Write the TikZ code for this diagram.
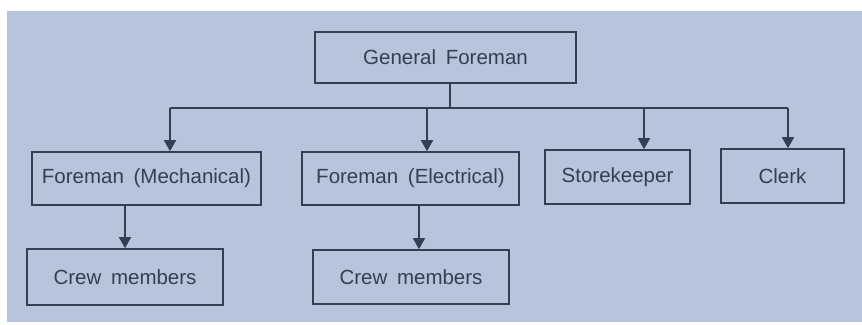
\documentclass[tikz,border=0pt]{standalone}
\usepackage{fontspec}
\setmainfont{Liberation Sans}[WordSpace=1.7]
\usetikzlibrary{arrows.meta}
\definecolor{paper}{HTML}{B6C5DB}
\definecolor{ink}{HTML}{363F51}
\begin{document}
\begin{tikzpicture}[x=1pt,y=-1pt,
  box/.style={draw=ink,line width=1.6pt,fill=none,inner sep=0pt,
    text=ink,font=\fontsize{20.5}{23}\selectfont},
  link/.style={draw=ink,line width=1.6pt},
  arrowlink/.style={link,-{Triangle[width=12pt,length=11pt]}}]
  % page and photographed area
  \fill[white] (0,0) rectangle (862,324);
  \fill[paper] (7,11) rectangle (862,322);
  \useasboundingbox (0,0) rectangle (862,324);

  % boxes
  \node[box,minimum width=261pt,minimum height=51pt] (gf)    at (445.5,57.5) {General Foreman};
  \node[box,minimum width=229pt,minimum height=53pt] (mech)  at (146.5,178.5) {Foreman (Mechanical)};
  \node[box,minimum width=217pt,minimum height=53pt] (elec)  at (410.5,178.5) {Foreman (Electrical)};
  \node[box,minimum width=145pt,minimum height=54pt] (store) at (617.5,177) {Storekeeper};
  \node[box,minimum width=123pt,minimum height=54pt] (clerk) at (782.5,176) {Clerk};
  \node[box,minimum width=196pt,minimum height=56pt] (crewm) at (125,277) {Crew members};
  \node[box,minimum width=196pt,minimum height=54pt] (crewe) at (411,277) {Crew members};

  % junctions on the distribution line
  \coordinate (bus)  at (450,108);
  \coordinate (busm) at (170,108);
  \coordinate (buse) at (427,108);
  \coordinate (buss) at (644,108);
  \coordinate (busc) at (788,108);

  % connectors
  \draw[link] (gf.south -| bus) -- (bus);
  \draw[link] (busm) -- (busc);
  \draw[arrowlink] (busm) -- (busm |- mech.north);
  \draw[arrowlink] (buse) -- (buse |- elec.north);
  \draw[arrowlink] (buss) -- (buss |- store.north);
  \draw[arrowlink] (busc) -- (busc |- clerk.north);
  \draw[arrowlink] (crewm.north |- mech.south) -- (crewm.north);
  \draw[arrowlink] ([xshift=8.5pt]elec.south) -- ([xshift=8.5pt]elec.south |- crewe.north);
\end{tikzpicture}
\end{document}
